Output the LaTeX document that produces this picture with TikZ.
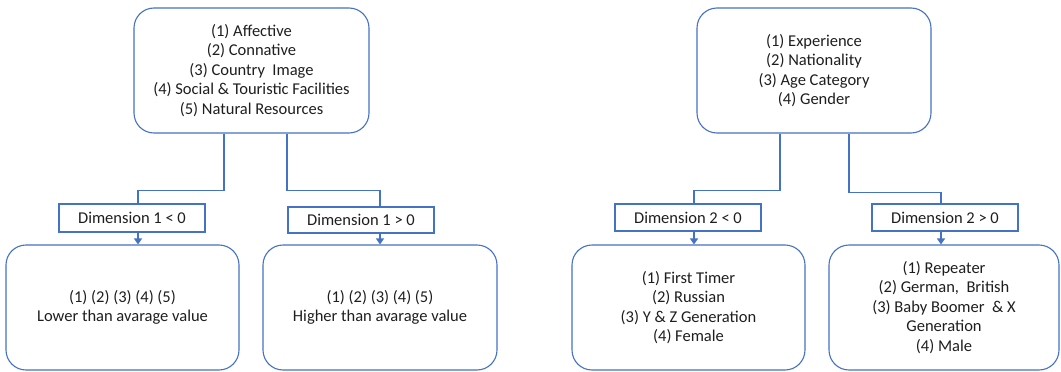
\documentclass[tikz,border=0pt]{standalone}
\usepackage{fontspec}
\setmainfont{Carlito}
\usetikzlibrary{arrows.meta}

\definecolor{boxblue}{HTML}{4472C4}
\definecolor{txtgray}{HTML}{1E1E1E}

\tikzset{
  imgbox/.style={draw=boxblue, line width=1.1pt, rounded corners=20pt,
    align=center, inner sep=0pt, text=txtgray,
    font=\fontsize{16.5}{19.5}\selectfont},
  dimbox/.style={draw=boxblue, line width=1.1pt, inner sep=0pt,
    minimum width=146pt, text=txtgray, font=\fontsize{16.5}{19.5}\selectfont},
  link/.style={draw=boxblue, line width=1.1pt},
  arrowlink/.style={link, -{Triangle[width=8pt,length=6pt]}}
}

\begin{document}
\begin{tikzpicture}[x=1pt,y=1pt]
  \useasboundingbox (0,0) rectangle (1061,-372);

  \node[imgbox, minimum width=235pt, minimum height=125pt] (img1) at (251.5,-70.5)
    {(1) Affective\\(2) Connative\\(3) Country\ \ Image\\(4) Social \& Touristic Facilities\\(5) Natural Resources};
  \node[dimbox, minimum height=28pt] (dim11) at (132,-218) {Dimension 1 < 0};
  \node[dimbox, minimum height=26pt] (dim12) at (361,-220) {Dimension 1 > 0};
  \node[imgbox, minimum width=233pt, minimum height=125pt] (res11) at (122.5,-307.5)
    {(1) (2) (3) (4) (5)\\Lower than avarage value};
  \node[imgbox, minimum width=234pt, minimum height=125pt] (res12) at (380,-307.5)
    {(1) (2) (3) (4) (5)\\Higher than avarage value};

  \node[imgbox, minimum width=234pt, minimum height=125pt] (img2) at (814,-70.5)
    {(1) Experience\\(2) Nationality\\(3) Age Category\\(4) Gender};
  \node[dimbox, minimum height=27pt] (dim21) at (688,-217.5) {Dimension 2 < 0};
  \node[dimbox, minimum height=27pt] (dim22) at (945,-217.5) {Dimension 2 > 0};
  \node[imgbox, minimum width=233pt, minimum height=125pt] (res21) at (688.5,-307.5)
    {(1) First Timer\\(2) Russian\\(3) Y \& Z Generation\\(4) Female};
  \node[imgbox, minimum width=230pt, minimum height=125pt] (res22) at (944,-307.5)
    {(1) Repeater\\(2) German,\ \ British\\(3) Baby Boomer\ \ \& X\\Generation\\(4) Male};

  \draw[link] ([xshift=-27.5pt]img1.south) -- ++(0,-57) -| ([xshift=6pt]dim11.north);
  \draw[link] ([xshift=35.5pt]img1.south) -- ++(0,-57) -| ([xshift=19pt]dim12.north);
  \draw[arrowlink] ([xshift=6pt]dim11.south) -- ([xshift=15.5pt]res11.north);
  \draw[arrowlink] ([xshift=19pt]dim12.south) -- (res12.north);

  \draw[link] ([xshift=-34pt]img2.south) -- ++(0,-57) -| ([xshift=6pt]dim21.north);
  \draw[link] ([xshift=35pt]img2.south) -- ++(0,-59) -| ([xshift=-4pt]dim22.north);
  \draw[arrowlink] ([xshift=6pt]dim21.south) -- ([xshift=5.5pt]res21.north);
  \draw[arrowlink] ([xshift=-4pt]dim22.south) -- ([xshift=-3pt]res22.north);
\end{tikzpicture}
\end{document}
